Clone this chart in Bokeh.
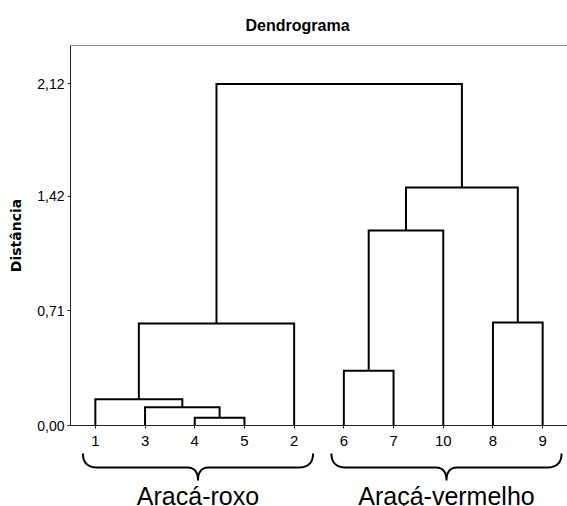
import numpy as np
from bokeh.plotting import figure
from bokeh.models import FixedTicker, Range1d, Span
from bokeh.layouts import column
from bokeh.core.properties import value
from bokeh.embed import file_html
from bokeh.resources import INLINE

# ---------------- data ----------------
title_text = "Dendrograma"
y_label = "Distância"
leaf_order = ["1", "3", "4", "5", "2", "6", "7", "10", "8", "9"]
# agglomeration steps: members joined and joining distance
merge_left = ["4", "3", "1", "m3", "6", "m5", "8", "m6", "m4"]
merge_right = ["5", "m1", "m2", "2", "7", "10", "9", "m7", "m8"]
merge_height = [0.048, 0.113, 0.163, 0.632, 0.339, 1.209, 0.638, 1.475, 2.118]
y_ticks = [0.00, 0.71, 1.42, 2.12]
y_tick_labels = ["0,00", "0,71", "1,42", "2,12"]
group_names = ["Aracá-roxo", "Araçá-vermelho"]
group_first_leaf = ["1", "6"]
group_last_leaf = ["2", "9"]

# ---------------- build dendrogram segments ----------------
pos = {leaf: i + 1 for i, leaf in enumerate(leaf_order)}
hgt = {leaf: 0.0 for leaf in leaf_order}
xs, ys = [], []
for k, (a, b, h) in enumerate(zip(merge_left, merge_right, merge_height)):
    xs.append([pos[a], pos[a], pos[b], pos[b]])
    ys.append([hgt[a], h, h, hgt[b]])
    name = "m%d" % (k + 1)
    pos[name] = (pos[a] + pos[b]) / 2.0
    hgt[name] = h

W = 567
LEFT = 70
X_RANGE = Range1d(0.5, 10.5)
TICK_FONT = "Liberation Sans"

p = figure(width=W, height=450, output_backend="svg", toolbar_location=None,
           x_range=X_RANGE, y_range=Range1d(0, 2.356),
           min_border_left=LEFT, min_border_right=0, min_border_top=45,
           min_border_bottom=25)
p.outline_line_color = None
p.xgrid.visible = False
p.ygrid.visible = False
p.background_fill_color = "white"
p.border_fill_color = "white"

p.title.text = title_text
p.title.text_font = "Liberation Sans"
p.title.text_font_style = "bold"
p.title.text_font_size = "16px"
p.title.text_color = "black"
p.title.align = "left"
p.title.offset = 175
p.title.standoff = 23

p.multi_line(xs=xs, ys=ys, line_color="black", line_width=2, line_join="miter")

# top border line
p.add_layout(Span(location=2.356, dimension="width", line_color="#222222", line_width=1))

xa = p.xaxis[0]
xa.ticker = FixedTicker(ticks=list(range(1, len(leaf_order) + 1)))
xa.major_label_overrides = {i + 1: lab for i, lab in enumerate(leaf_order)}
xa.minor_tick_line_color = None
xa.major_tick_in = 0
xa.major_tick_out = 3
xa.major_label_standoff = 7
xa.major_label_text_font = TICK_FONT
xa.major_label_text_font_size = "15px"
xa.major_label_text_color = "black"
xa.axis_line_color = "#222222"
xa.major_tick_line_color = "#222222"

ya = p.yaxis[0]
ya.ticker = FixedTicker(ticks=y_ticks)
ya.major_label_overrides = {t: lab for t, lab in zip(y_ticks, y_tick_labels)}
ya.minor_tick_line_color = None
ya.major_tick_in = 0
ya.major_tick_out = 3
ya.major_label_standoff = 3
ya.major_label_text_font = TICK_FONT
ya.major_label_text_font_size = "14px"
ya.major_label_text_color = "black"
ya.axis_line_color = "#222222"
ya.major_tick_line_color = "#222222"
ya.axis_label = y_label
ya.axis_label_text_font = "DejaVu Sans"
ya.axis_label_text_font_style = "bold"
ya.axis_label_text_font_size = "14px"
ya.axis_label_text_color = "black"
ya.axis_label_standoff = 10

# ---------------- braces and group names ----------------
H2 = 56
p2 = figure(width=W, height=H2, output_backend="svg", toolbar_location=None,
            x_range=X_RANGE, y_range=Range1d(0, H2),
            min_border_left=LEFT, min_border_right=0, min_border_top=0,
            min_border_bottom=0, x_axis_location=None, y_axis_location=None)
p2.outline_line_color = None
p2.xgrid.visible = False
p2.ygrid.visible = False
p2.background_fill_color = "white"
p2.border_fill_color = "white"

PAD_L, PAD_R = 0.25, 0.38
Y_TOP, Y_MID, Y_TIP = 53, 39, 26
R_END, R_TIP = 0.30, 0.22


def qbez(p0, c, p1, n=20):
    t = np.linspace(0, 1, n)[:, None]
    pts = (1 - t) ** 2 * np.array(p0) + 2 * (1 - t) * t * np.array(c) + t ** 2 * np.array(p1)
    return pts


bx, by, cx = [], [], []
for first, last in zip(group_first_leaf, group_last_leaf):
    x0 = pos[first] - PAD_L
    x1 = pos[last] + PAD_R
    xc = (x0 + x1) / 2.0
    segs = [
        qbez((x0, Y_TOP), (x0, Y_MID), (x0 + R_END, Y_MID)),
        qbez((xc - R_TIP, Y_MID), (xc, Y_MID), (xc, Y_TIP)),
        qbez((xc, Y_TIP), (xc, Y_MID), (xc + R_TIP, Y_MID)),
        qbez((x1 - R_END, Y_MID), (x1, Y_MID), (x1, Y_TOP)),
    ]
    pts = np.vstack(segs)
    bx.append(list(pts[:, 0]))
    by.append(list(pts[:, 1]))
    cx.append(xc)

p2.multi_line(xs=bx, ys=by, line_color="black", line_width=2)
p2.text(x=cx, y=[11] * len(cx), text=group_names, text_align="center",
        text_baseline="middle", text_font=value("Liberation Sans"),
        text_font_size="25px", text_color="black")

layout = column(p, p2, spacing=0)
open("out.html", "w").write(file_html(layout, INLINE))
